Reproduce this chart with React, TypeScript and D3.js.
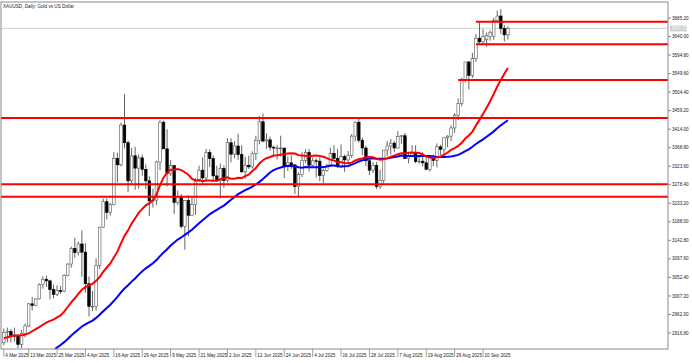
import React from 'react';
import * as d3 from 'd3';

const title = 'XAUUSD, Daily:  Gold vs US Dollar';

// Daily bars 4 Mar 2025 .. 19 Sep 2025
const opens = [
  2893, 2918, 2920, 2911, 2910, 2889, 2916, 2934, 2988, 2984, 3000, 3035, 3048, 3044, 3023, 3011, 3020, 3019, 3057, 3085,
  3123, 3113, 3134, 3114, 3037, 2982, 2982, 3082, 3175, 3237, 3211, 3230, 3343, 3327, 3424, 3381, 3288, 3349, 3319, 3344,
  3316, 3288, 3239, 3241, 3334, 3431, 3366, 3306, 3325, 3235, 3249, 3177, 3240, 3204, 3230, 3289, 3314, 3295, 3357, 3342,
  3300, 3288, 3318, 3289, 3381, 3353, 3373, 3352, 3310, 3326, 3322, 3354, 3386, 3432, 3385, 3388, 3370, 3368, 3368, 3368,
  3323, 3332, 3327, 3274, 3303, 3338, 3357, 3326, 3337, 3336, 3301, 3313, 3324, 3355, 3343, 3324, 3347, 3339, 3350, 3397,
  3431, 3387, 3368, 3337, 3314, 3326, 3274, 3289, 3363, 3373, 3380, 3368, 3396, 3398, 3342, 3348, 3356, 3335, 3336, 3332,
  3316, 3348, 3338, 3371, 3365, 3393, 3397, 3417, 3448, 3477, 3533, 3578, 3545, 3586, 3636, 3627, 3632, 3640, 3640, 3679,
  3690, 3660, 3644,
];
const highs = [
  2928, 2930, 2926, 2930, 2914, 2924, 2940, 2990, 3005, 3001, 3038, 3055, 3057, 3047, 3035, 3033, 3032, 3060, 3087, 3128,
  3149, 3140, 3167, 3136, 3055, 3019, 3099, 3175, 3245, 3245, 3234, 3358, 3357, 3430, 3500, 3386, 3368, 3371, 3352, 3352,
  3328, 3299, 3269, 3337, 3436, 3435, 3414, 3339, 3326, 3264, 3256, 3241, 3253, 3249, 3295, 3325, 3345, 3366, 3365, 3350,
  3325, 3330, 3326, 3392, 3392, 3385, 3403, 3375, 3347, 3349, 3360, 3398, 3446, 3452, 3404, 3396, 3374, 3375, 3398, 3368,
  3347, 3350, 3328, 3309, 3358, 3365, 3366, 3345, 3343, 3345, 3318, 3330, 3369, 3375, 3366, 3377, 3352, 3361, 3402, 3433,
  3439, 3394, 3374, 3345, 3334, 3334, 3315, 3363, 3385, 3390, 3385, 3409, 3400, 3405, 3358, 3375, 3375, 3349, 3358, 3345,
  3350, 3352, 3379, 3376, 3394, 3399, 3423, 3453, 3489, 3540, 3578, 3580, 3600, 3646, 3674, 3658, 3650, 3655, 3686, 3703,
  3707, 3668, 3665,
];
const lows = [
  2887, 2894, 2894, 2896, 2880, 2880, 2906, 2932, 2972, 2982, 2998, 3025, 3029, 2999, 3001, 3007, 3012, 3016, 3055, 3076,
  3100, 3106, 3054, 3015, 2957, 2970, 2972, 3073, 3174, 3194, 3203, 3228, 3284, 3323, 3367, 3260, 3282, 3266, 3269, 3300,
  3268, 3202, 3223, 3229, 3314, 3367, 3274, 3300, 3207, 3229, 3172, 3120, 3153, 3203, 3205, 3285, 3277, 3287, 3322, 3285,
  3285, 3245, 3271, 3284, 3333, 3343, 3339, 3307, 3293, 3317, 3318, 3339, 3377, 3382, 3366, 3362, 3347, 3340, 3347, 3295,
  3312, 3317, 3256, 3247, 3297, 3331, 3311, 3323, 3296, 3287, 3283, 3310, 3322, 3341, 3320, 3319, 3310, 3332, 3344, 3384,
  3381, 3351, 3324, 3302, 3307, 3268, 3268, 3281, 3348, 3352, 3358, 3367, 3378, 3342, 3331, 3346, 3331, 3330, 3323, 3315,
  3311, 3324, 3321, 3351, 3352, 3370, 3385, 3405, 3436, 3470, 3528, 3511, 3539, 3578, 3620, 3620, 3614, 3630, 3632, 3676,
  3646, 3628, 3633,
];
const closes = [
  2918, 2920, 2911, 2910, 2889, 2916, 2934, 2988, 2984, 3000, 3035, 3048, 3044, 3023, 3011, 3020, 3019, 3057, 3085, 3123,
  3113, 3134, 3114, 3037, 2982, 2982, 3082, 3175, 3237, 3211, 3230, 3343, 3327, 3424, 3381, 3288, 3349, 3319, 3344, 3316,
  3288, 3239, 3241, 3334, 3431, 3366, 3306, 3325, 3235, 3249, 3177, 3240, 3204, 3230, 3289, 3314, 3295, 3357, 3342, 3300,
  3288, 3318, 3289, 3381, 3353, 3373, 3352, 3310, 3326, 3322, 3354, 3386, 3432, 3385, 3388, 3370, 3368, 3368, 3368, 3323,
  3332, 3327, 3274, 3303, 3338, 3357, 3326, 3337, 3336, 3301, 3313, 3324, 3355, 3343, 3324, 3347, 3339, 3350, 3397, 3431,
  3387, 3368, 3337, 3314, 3326, 3274, 3289, 3363, 3373, 3380, 3368, 3396, 3398, 3342, 3348, 3356, 3335, 3336, 3332, 3316,
  3348, 3338, 3371, 3365, 3393, 3397, 3417, 3448, 3477, 3533, 3578, 3545, 3586, 3636, 3627, 3640, 3643, 3650, 3679, 3690,
  3660, 3644, 3660,
];
// closes before the first visible bar (23 Dec 2024 .. 3 Mar 2025), needed by the moving averages
const priorCloses = [
  2612, 2617, 2633, 2621, 2606, 2624, 2658, 2640, 2636, 2648, 2661, 2670, 2690, 2663, 2677, 2697, 2715, 2702, 2708, 2745,
  2755, 2754, 2770, 2740, 2763, 2760, 2794, 2798, 2815, 2842, 2866, 2856, 2861, 2908, 2897, 2904, 2928, 2883, 2898, 2935,
  2933, 2939, 2936, 2952, 2915, 2916, 2876, 2858, 2893,
];

const priceTicks = [3685.2, 3640.0, 3594.8, 3549.6, 3504.4, 3459.2, 3414.0, 3368.8, 3323.6, 3278.4, 3233.2, 3188.0, 3142.8, 3097.6, 3052.4, 3007.2, 2962.0, 2916.8];
const dateTickBars = [0, 7, 15, 23, 31, 39, 47, 55, 63, 71, 79, 87, 95, 103, 111, 119, 127, 135];
const dateTickLabels = [
  '4 Mar 2025', '13 Mar 2025', '25 Mar 2025', '4 Apr 2025', '16 Apr 2025', '29 Apr 2025', '9 May 2025', '21 May 2025',
  '2 Jun 2025', '12 Jun 2025', '24 Jun 2025', '4 Jul 2025', '16 Jul 2025', '28 Jul 2025', '7 Aug 2025', '19 Aug 2025',
  '29 Aug 2025', '10 Sep 2025',
];
const levelPrices = [3676, 3621, 3534, 3441, 3279.4, 3249];
const levelStartBars = [133, 133, 128, -1, -1, -1]; // -1: from the left edge
const currentPrice = 3660.0;
const fastPeriod = 20;
const slowPeriod = 50;

const FONT = '"Liberation Sans", Arial, sans-serif';

export default function App() {
  const W = 692, H = 363;
  const frameL = 1, frameT = 2, frameR = 668, frameB = 349;
  const barStep = 3.55, firstBarX = 3.8;

  const y = d3.scaleLinear().domain([priceTicks[priceTicks.length - 1], priceTicks[0]]).range([333, 18]);
  const x = d3.scaleLinear().domain([0, closes.length - 1]).range([firstBarX, firstBarX + (closes.length - 1) * barStep]);

  const all = [...priorCloses, ...closes];
  const sma = (p: number) =>
    closes.map((_, i) => {
      const end = priorCloses.length + i;
      const start = end - p + 1;
      if (start < 0) return null;
      return d3.mean(all.slice(start, end + 1)) as number;
    });
  const fast = sma(fastPeriod);
  const slow = sma(slowPeriod);
  const line = d3
    .line<[number, number | null]>()
    .defined((d) => d[1] != null)
    .x((d) => x(d[0]))
    .y((d) => y(d[1] as number));

  const bodyW = 2.6;

  return (
    <div style={{ position: 'fixed', left: 0, top: 0, width: W, height: H, background: '#fff' }}>
      <svg width={W} height={H} style={{ display: 'block' }}>
        <defs>
          <clipPath id="plot">
            <rect x={frameL} y={frameT} width={frameR - frameL} height={frameB - frameT} />
          </clipPath>
        </defs>
        <rect x={0} y={0} width={W} height={H} fill="#fff" />

        <g clipPath="url(#plot)">
          {/* current price line */}
          <line x1={frameL} x2={frameR} y1={y(currentPrice)} y2={y(currentPrice)} stroke="#d0d0d0" strokeWidth={1} />

          {/* candles */}
          {closes.map((c, i) => {
            const o = opens[i];
            const cx = x(i);
            const bull = c >= o;
            const top = y(Math.max(o, c));
            const bot = y(Math.min(o, c));
            return (
              <g key={i}>
                <line x1={cx} x2={cx} y1={y(highs[i])} y2={y(lows[i])} stroke="#555" strokeWidth={0.9} />
                <rect
                  x={cx - bodyW / 2}
                  y={top}
                  width={bodyW}
                  height={Math.max(0.8, bot - top)}
                  fill={bull ? '#fff' : '#000'}
                  stroke={bull ? '#555' : '#000'}
                  strokeWidth={0.6}
                />
              </g>
            );
          })}

          {/* moving averages */}
          <path d={line(slow.map((v, i) => [i, v]) as any) || ''} fill="none" stroke="#0000ff" strokeWidth={2} />
          <path d={line(fast.map((v, i) => [i, v]) as any) || ''} fill="none" stroke="#ff0000" strokeWidth={2} />

          {/* horizontal levels */}
          {levelPrices.map((p, k) => (
            <line
              key={k}
              x1={levelStartBars[k] < 0 ? frameL : x(levelStartBars[k])}
              x2={frameR}
              y1={y(p)}
              y2={y(p)}
              stroke="#ff0000"
              strokeWidth={2}
            />
          ))}
        </g>

        {/* frame */}
        <rect x={frameL} y={frameT} width={frameR - frameL} height={frameB - frameT} fill="none" stroke="#8a8a8a" strokeWidth={1} />

        {/* title */}
        <text x={3} y={7.8} fontFamily={FONT} fontSize={4.6} fill="#222">
          {title}
        </text>

        {/* price axis */}
        {priceTicks.map((p) => (
          <g key={p}>
            <line x1={frameR} x2={frameR + 3} y1={y(p)} y2={y(p)} stroke="#8a8a8a" strokeWidth={1} />
            <text x={frameR + 4} y={y(p) + 1.6} fontFamily={FONT} fontSize={4.6} fill="#222">
              {p.toFixed(2)}
            </text>
          </g>
        ))}
        <rect x={frameR + 2} y={y(currentPrice) - 2.8} width={17} height={5.8} fill="#c8c8c8" />
        <text x={frameR + 3} y={y(currentPrice) + 1.6} fontFamily={FONT} fontSize={4.6} fill="#fff">
          {currentPrice.toFixed(2)}
        </text>

        {/* time axis */}
        {dateTickBars.map((b, k) => (
          <g key={b}>
            <line x1={x(b)} x2={x(b)} y1={frameB} y2={frameB + 8} stroke="#8a8a8a" strokeWidth={0.8} />
            <text x={x(b) + 1.5} y={frameB + 8} fontFamily={FONT} fontSize={4.6} fill="#222">
              {dateTickLabels[k]}
            </text>
          </g>
        ))}
      </svg>
    </div>
  );
}
